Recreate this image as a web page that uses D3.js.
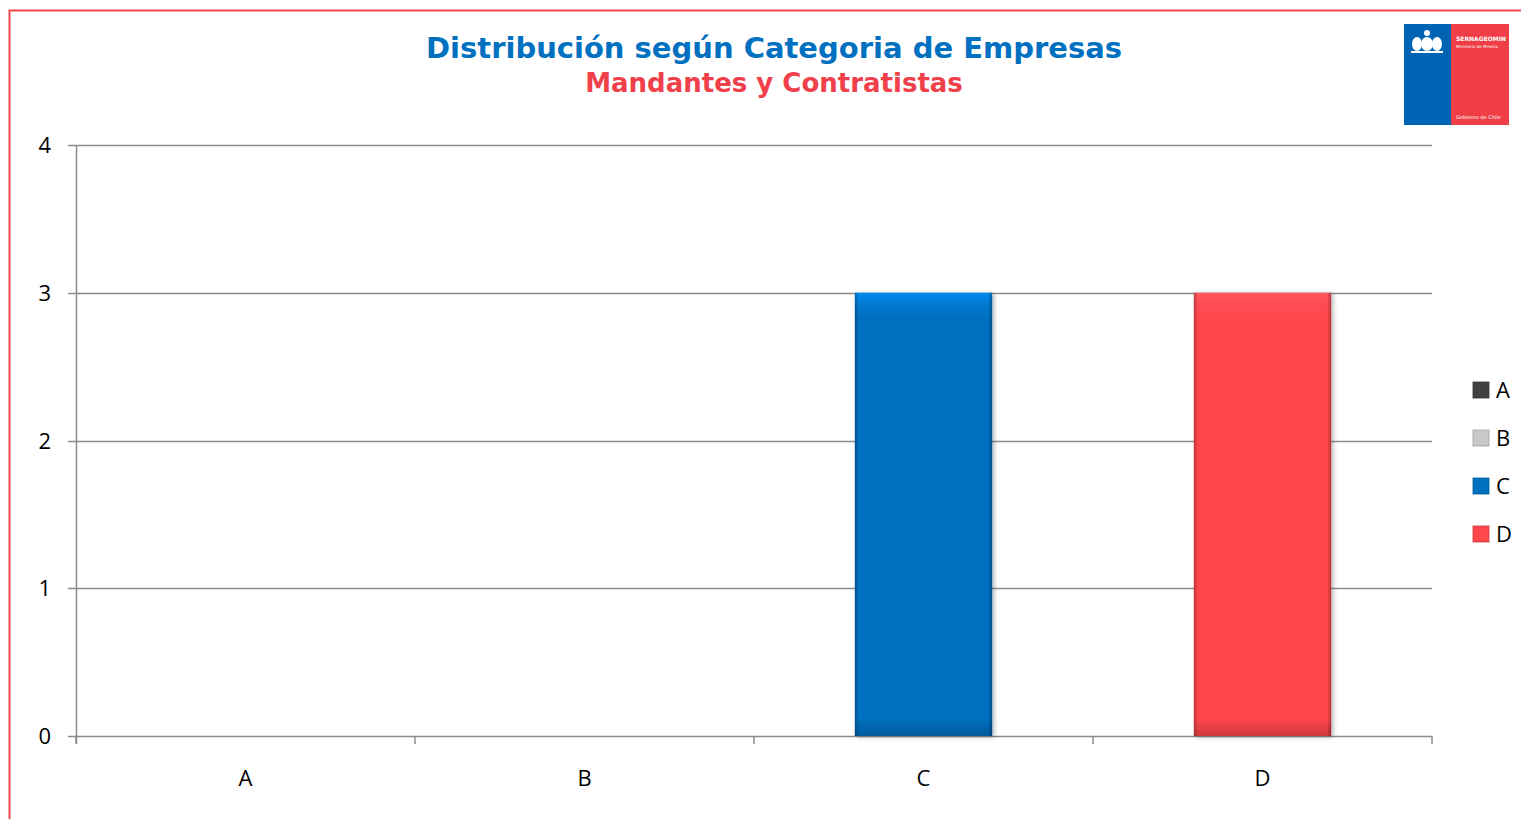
<!DOCTYPE html>
<html>
<head>
<meta charset="utf-8">
<script src="https://cdn.jsdelivr.net/npm/d3@7"></script>
<style>
  body { margin: 0; background: #fff; overflow: hidden; }
  svg { display: block; }
</style>
</head>
<body>
<div id="container"></div>
<script>
// chart data
var categories = ["A", "B", "C", "D"];
var values = [0, 0, 3, 3];
var barColors = ["#404040", "#c8c8c8", "#0070c0", "#ff474c"];
var yTicks = [0, 1, 2, 3, 4];
var title = "Distribución según Categoria de Empresas";
var subtitle = "Mandantes y Contratistas";

var W = 1521, H = 819;
var margin = {top: 145, right: 89, bottom: 83, left: 76};
var width = W - margin.left - margin.right,
    height = H - margin.top - margin.bottom;

var svg = d3.select("#container")
  .append("svg")
    .attr("width", W)
    .attr("height", H);

var defs = svg.append("defs");

// bevel gradients for the bars
barColors.forEach(function(c, i) {
    var base = d3.color(c);
    var g = defs.append("linearGradient")
        .attr("id", "grad_" + i)
        .attr("x1", 0).attr("y1", 0).attr("x2", 0).attr("y2", 1);
    g.append("stop").attr("offset", "0%").attr("stop-color", base.brighter(0.6));
    g.append("stop").attr("offset", "3%").attr("stop-color", base.brighter(0.2));
    g.append("stop").attr("offset", "6%").attr("stop-color", base);
    g.append("stop").attr("offset", "96%").attr("stop-color", base);
    g.append("stop").attr("offset", "100%").attr("stop-color", base.darker(0.6));
    var h = defs.append("linearGradient")
        .attr("id", "hgrad_" + i)
        .attr("x1", 0).attr("y1", 0).attr("x2", 1).attr("y2", 0);
    h.append("stop").attr("offset", "0%").attr("stop-color", "#000").attr("stop-opacity", 0.25);
    h.append("stop").attr("offset", "3%").attr("stop-color", "#000").attr("stop-opacity", 0);
    h.append("stop").attr("offset", "97%").attr("stop-color", "#000").attr("stop-opacity", 0);
    h.append("stop").attr("offset", "100%").attr("stop-color", "#000").attr("stop-opacity", 0.3);
});

var shadow = defs.append("filter").attr("id", "shadow")
    .attr("x", "-10%").attr("y", "-10%").attr("width", "130%").attr("height", "130%");
shadow.append("feDropShadow").attr("dx", 2).attr("dy", 1).attr("stdDeviation", 2)
    .attr("flood-color", "#000").attr("flood-opacity", 0.3);

// outer red frame
svg.append("rect")
    .attr("x", 9.5).attr("y", 10.5)
    .attr("width", W + 20).attr("height", H + 20)
    .attr("fill", "none")
    .attr("stroke", "#f0484c")
    .attr("stroke-width", 2);

// titles
svg.append("text")
    .attr("x", 774).attr("y", 58)
    .attr("text-anchor", "middle")
    .attr("font-family", "Verdana, 'DejaVu Sans', sans-serif")
    .attr("font-weight", "bold")
    .attr("font-size", "29px")
    .attr("fill", "#0070c0")
    .text(title);

svg.append("text")
    .attr("x", 774).attr("y", 92)
    .attr("text-anchor", "middle")
    .attr("font-family", "Verdana, 'DejaVu Sans', sans-serif")
    .attr("font-weight", "bold")
    .attr("font-size", "26px")
    .attr("fill", "#f0404a")
    .text(subtitle);

// logo
var logo = svg.append("g").attr("transform", "translate(1404,24)");
logo.append("rect").attr("width", 47).attr("height", 101).attr("fill", "#0064b4");
logo.append("rect").attr("x", 47).attr("width", 58).attr("height", 101).attr("fill", "#ef3e46");
// simple emblem
var em = logo.append("g").attr("transform", "translate(23,18)").attr("fill", "#fff");
em.append("ellipse").attr("cx", 0).attr("cy", 2).attr("rx", 6).attr("ry", 7);
em.append("ellipse").attr("cx", -10).attr("cy", 2).attr("rx", 5).attr("ry", 7);
em.append("ellipse").attr("cx", 10).attr("cy", 2).attr("rx", 5).attr("ry", 7);
em.append("circle").attr("cx", 0).attr("cy", -9).attr("r", 3);
em.append("rect").attr("x", -16).attr("y", 9).attr("width", 32).attr("height", 2);
var lt = logo.append("g").attr("fill", "#fff")
    .attr("font-family", "'DejaVu Sans', sans-serif");
lt.append("text").attr("x", 52).attr("y", 17).attr("font-size", "6px").attr("font-weight", "bold").text("SERNAGEOMIN");
lt.append("text").attr("x", 52).attr("y", 24).attr("font-size", "4px").text("Ministerio de Minería");
lt.append("text").attr("x", 52).attr("y", 95).attr("font-size", "5px").text("Gobierno de Chile");

var g = svg.append("g")
    .attr("transform", "translate(" + margin.left + "," + margin.top + ")");

var x = d3.scaleBand()
    .domain(categories)
    .range([0, width])
    .paddingInner(0.595)
    .paddingOuter(0.2975);

var xTicks = d3.scaleBand().domain(categories).range([0, width]);

var y = d3.scaleLinear()
    .domain([0, 4])
    .range([height, 0]);

// gridlines
g.append("g")
    .selectAll("line")
    .data(yTicks)
    .enter()
    .append("line")
        .attr("x1", -8)
        .attr("x2", width)
        .attr("y1", function(d) { return Math.round(y(d)) + 0.5; })
        .attr("y2", function(d) { return Math.round(y(d)) + 0.5; })
        .attr("stroke", "#8c8c8c")
        .attr("stroke-width", 1.5);

// y axis line
g.append("line")
    .attr("x1", 0.5).attr("x2", 0.5)
    .attr("y1", 0).attr("y2", height + 8)
    .attr("stroke", "#8c8c8c")
    .attr("stroke-width", 1.5);

// x ticks
g.append("g")
    .selectAll("line")
    .data(categories.concat(["end"]))
    .enter()
    .append("line")
        .attr("x1", function(d, i) { return i < categories.length ? xTicks(d) : width; })
        .attr("x2", function(d, i) { return i < categories.length ? xTicks(d) : width; })
        .attr("y1", height)
        .attr("y2", height + 8)
        .attr("stroke", "#8c8c8c")
        .attr("stroke-width", 1.5);

// y labels
g.append("g")
    .selectAll("text")
    .data(yTicks)
    .enter()
    .append("text")
        .attr("x", -25)
        .attr("y", function(d) { return y(d) + 8; })
        .attr("text-anchor", "end")
        .attr("font-family", "'Open Sans', sans-serif")
        .attr("font-size", "22px")
        .attr("fill", "#000")
        .text(function(d) { return d; });

// x labels
g.append("g")
    .selectAll("text")
    .data(categories)
    .enter()
    .append("text")
        .attr("x", function(d) { return xTicks(d) + xTicks.bandwidth() / 2; })
        .attr("y", height + 50)
        .attr("text-anchor", "middle")
        .attr("font-family", "'Open Sans', sans-serif")
        .attr("font-size", "22px")
        .attr("fill", "#000")
        .text(function(d) { return d; });

// bars
var bars = g.append("g")
    .selectAll("g")
    .data(values.map(function(v, i) { return {cat: categories[i], v: v, i: i}; }).filter(function(d) { return d.v > 0; }))
    .enter()
    .append("g");

bars.append("rect")
    .attr("x", function(d) { return x(d.cat); })
    .attr("y", function(d) { return y(d.v); })
    .attr("width", x.bandwidth())
    .attr("height", function(d) { return height - y(d.v); })
    .attr("fill", function(d) { return "url(#grad_" + d.i + ")"; })
    .attr("filter", "url(#shadow)");

bars.append("rect")
    .attr("x", function(d) { return x(d.cat); })
    .attr("y", function(d) { return y(d.v); })
    .attr("width", x.bandwidth())
    .attr("height", function(d) { return height - y(d.v); })
    .attr("fill", function(d) { return "url(#hgrad_" + d.i + ")"; });

// legend
var legend = svg.append("g")
    .selectAll("g")
    .data(categories)
    .enter()
    .append("g")
        .attr("transform", function(d, i) { return "translate(1473," + (382 + i * 48) + ")"; });

legend.append("rect")
    .attr("width", 16).attr("height", 16)
    .attr("fill", function(d, i) { return "url(#grad_" + i + ")"; })
    .attr("stroke", function(d, i) { return d3.color(barColors[i]).darker(0.6); })
    .attr("stroke-width", 0.8);

legend.append("text")
    .attr("x", 23).attr("y", 16)
    .attr("font-family", "'Open Sans', sans-serif")
    .attr("font-size", "22px")
    .attr("fill", "#000")
    .text(function(d) { return d; });
</script>
</body>
</html>
